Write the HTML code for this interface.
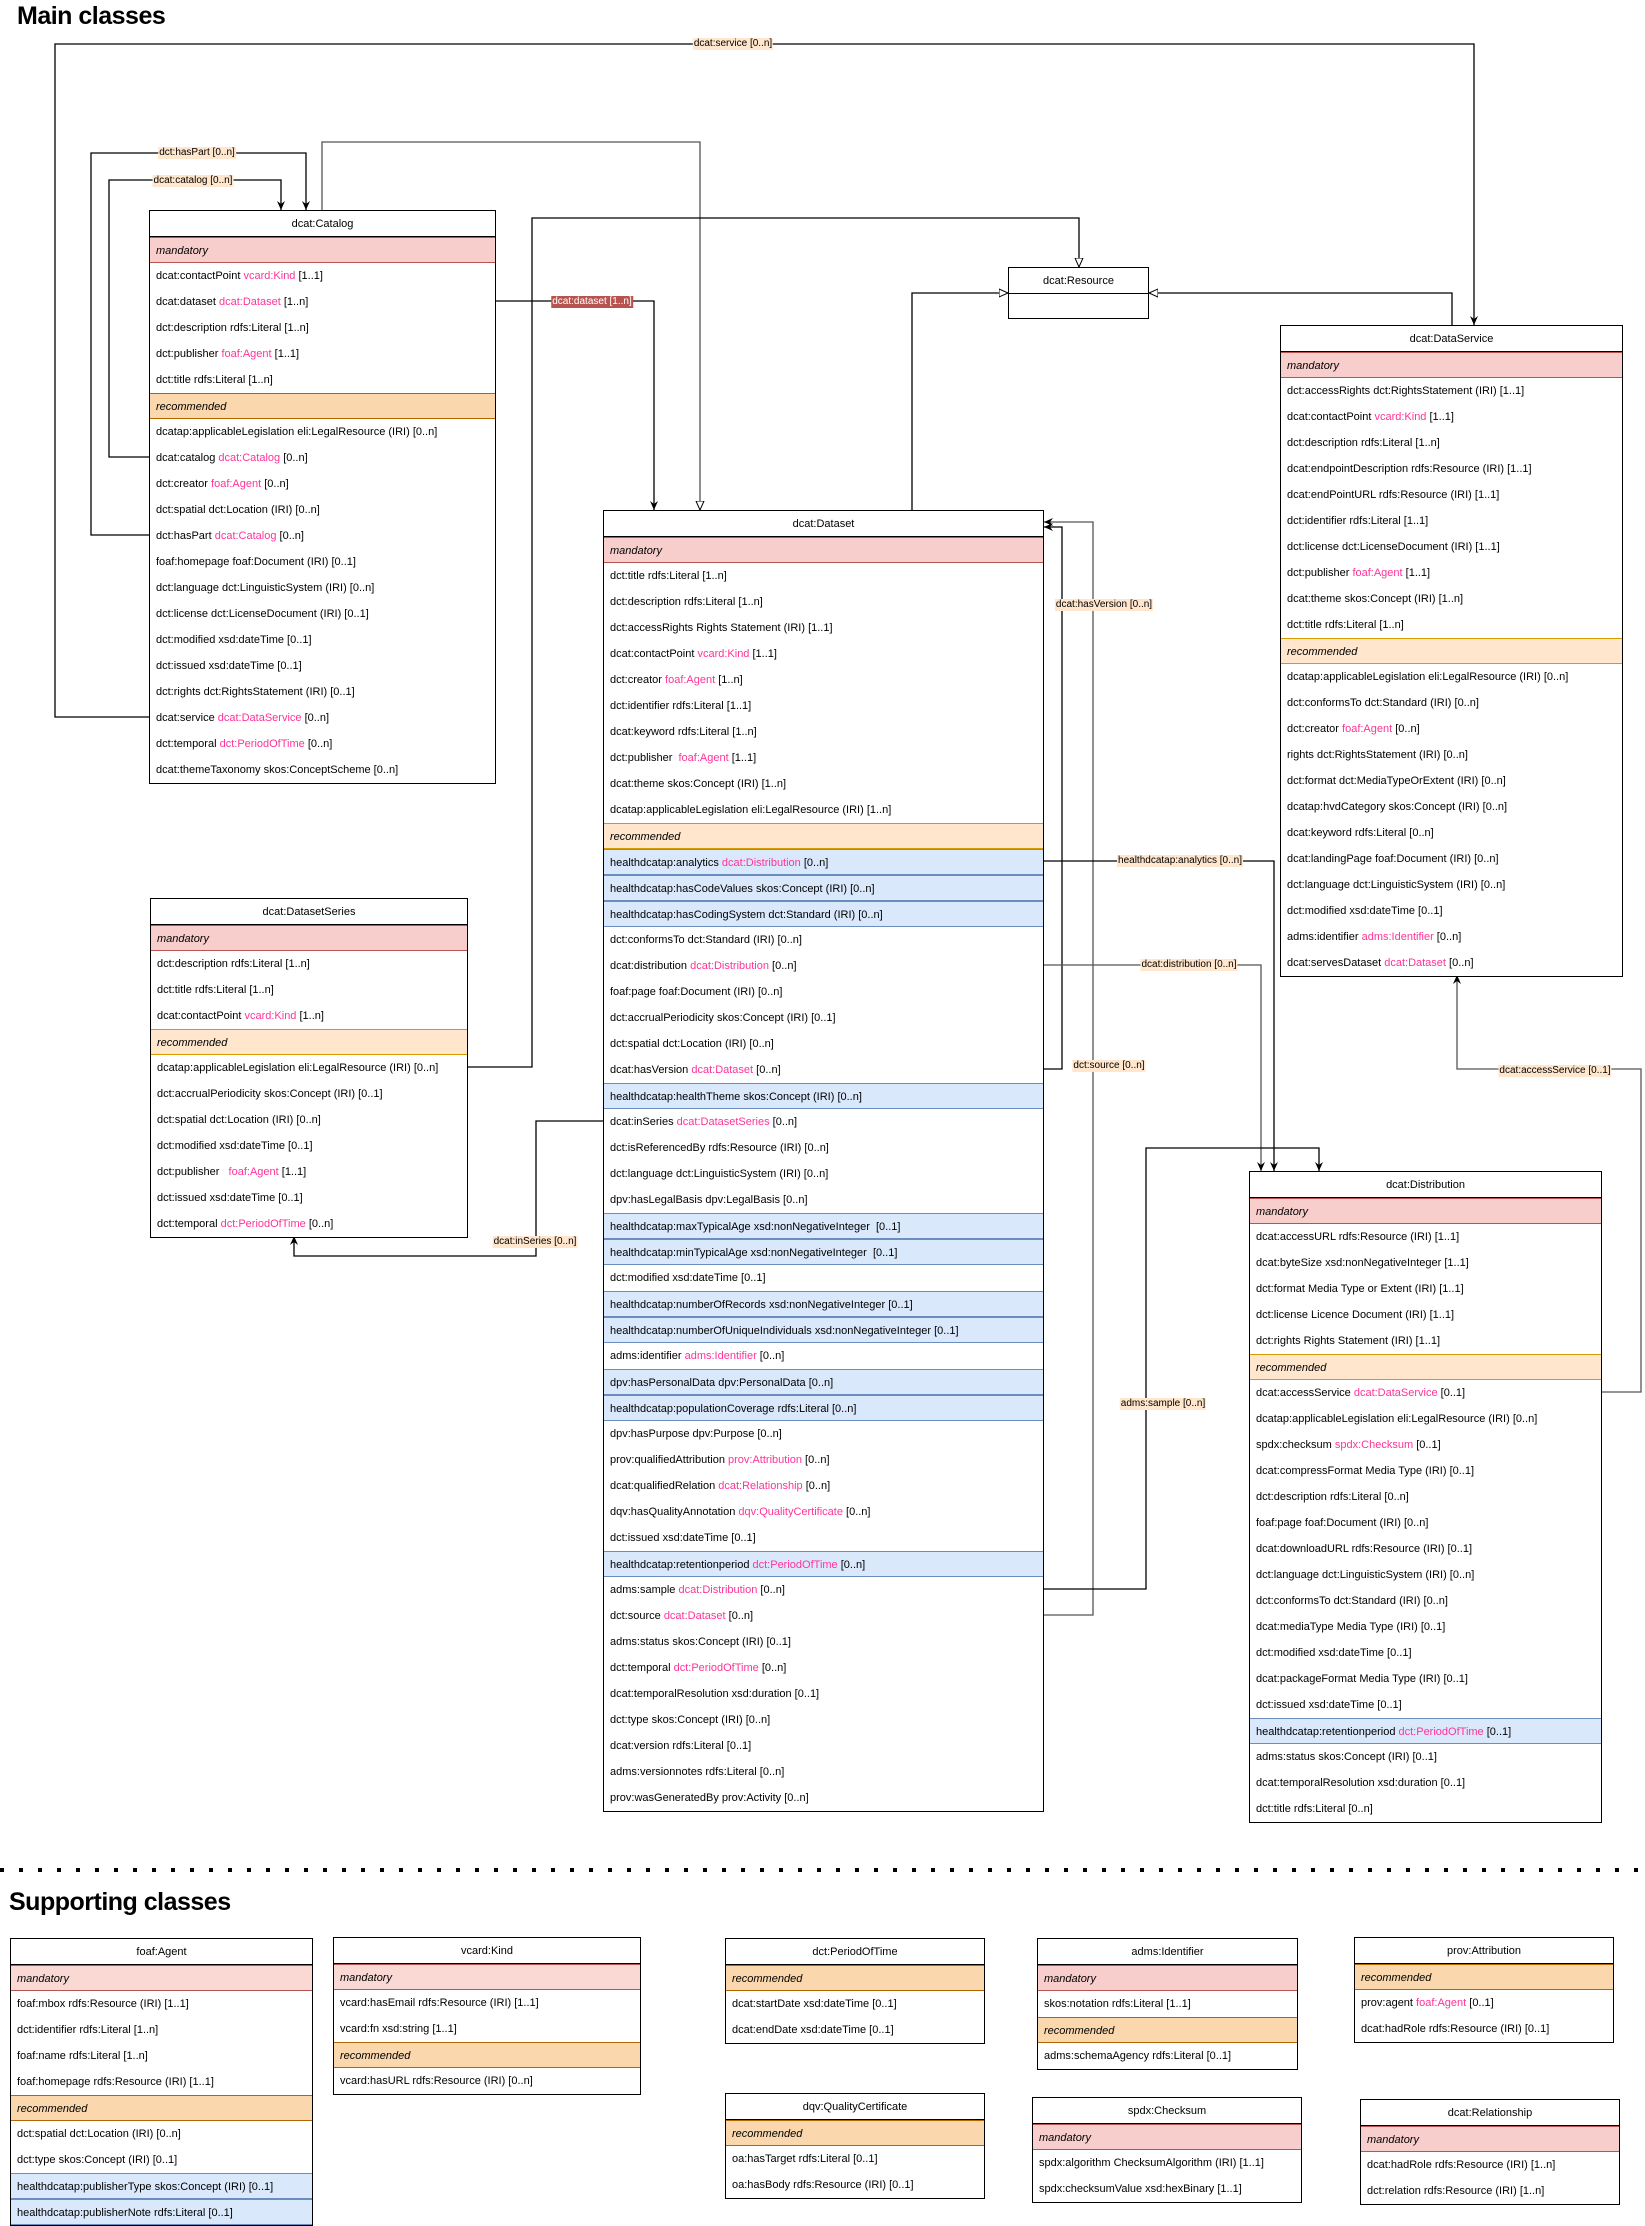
<!DOCTYPE html>
<html><head><meta charset="utf-8">
<style>
*{box-sizing:border-box;margin:0;padding:0}
body{width:1645px;height:2218px;background:#fff;position:relative;font-family:"Liberation Sans",Arial,sans-serif;font-size:11px;color:#000;overflow:hidden}
.t{position:absolute;font-weight:bold;font-size:25px;letter-spacing:-0.5px}
.box{position:absolute;border:1px solid #000;background:#fff}
.box div{height:26px;line-height:26px;padding-left:6px;white-space:nowrap;overflow:hidden}
.box .h{text-align:center;padding-left:0;border-bottom:1px solid #000}
.box .m{background:#f8cecc;border-top:1px solid #b85450;border-bottom:1px solid #b85450;font-style:italic}
.box .r{background:#fad7ac;border-top:1px solid #b46504;border-bottom:1px solid #b46504;font-style:italic}
.box .rl{background:#ffe6cc;border-top:1px solid #d79b00;border-bottom:1px solid #d79b00;font-style:italic}
.box .b{background:#dae8fc;border-top:1px solid #6c8ebf;border-bottom:1px solid #6c8ebf}
.p{color:#ff3399}
.lb{position:absolute;font-size:10px;background:#ffe6cc;line-height:12px;padding:0 1px;white-space:nowrap;transform:translate(-50%,-50%)}
svg{position:absolute;left:0;top:0}
</style></head><body>
<svg width="1645" height="2218">
<defs>
<marker id="f" markerWidth="10" markerHeight="10" refX="9" refY="5" orient="auto" markerUnits="userSpaceOnUse"><path d="M0,1 L9,5 L0,9 L3,5 Z" fill="#000"/></marker>
<marker id="o" markerWidth="10" markerHeight="10" refX="9" refY="5" orient="auto" markerUnits="userSpaceOnUse"><path d="M0,1 L9,5 L0,9 Z" fill="#fff" stroke="#000"/></marker>
</defs>
<g fill="none" stroke="#000" stroke-width="1.3">
<path d="M149,717 H55 V44 H1474 V325" marker-end="url(#f)"/>
<path d="M149,535 H91 V153 H306 V210" marker-end="url(#f)"/>
<path d="M149,457 H109 V180 H281 V210" marker-end="url(#f)"/>
<path d="M322,210 V142 H700 V510" stroke="#555" marker-end="url(#o)"/>
<path d="M496,301 H654 V510" marker-end="url(#f)"/>
<path d="M468,1067 H532 V218 H1079 V267" marker-end="url(#o)"/>
<path d="M912,510 V293 H1008" marker-end="url(#o)"/>
<path d="M1452,325 V293 H1149" marker-end="url(#o)"/>
<path d="M1044,1069 H1062 V527 H1044" marker-end="url(#f)"/>
<path d="M1044,1615 H1093 V522 H1044" stroke="#555" marker-end="url(#f)"/>
<path d="M1044,861 H1274 V1171" marker-end="url(#f)"/>
<path d="M1044,965 H1261 V1171" stroke="#555" marker-end="url(#f)"/>
<path d="M1044,1589 H1146 V1148 H1319 V1171" marker-end="url(#f)"/>
<path d="M1602,1392 H1641 V1069 H1457 V975" stroke="#555" marker-end="url(#f)"/>
<path d="M603,1121 H536 V1256 H294 V1236" marker-end="url(#f)"/>
</g>
<line x1="0" y1="1870" x2="1645" y2="1870" stroke="#000" stroke-width="4" stroke-dasharray="4,15"/>
</svg>

<div class="t" style="left:17px;top:2px">Main classes</div>
<div class="t" style="left:9px;top:1888px">Supporting classes</div>

<div class="lb" style="left:733px;top:44px">dcat:service [0..n]</div>
<div class="lb" style="left:197px;top:153px">dct:hasPart [0..n]</div>
<div class="lb" style="left:193px;top:181px">dcat:catalog [0..n]</div>
<div class="lb" style="left:592px;top:302px;background:#b85450;color:#fff">dcat:dataset [1..n]</div>
<div class="lb" style="left:1104px;top:605px">dcat:hasVersion [0..n]</div>
<div class="lb" style="left:1109px;top:1066px">dct:source [0..n]</div>
<div class="lb" style="left:1180px;top:861px">healthdcatap:analytics [0..n]</div>
<div class="lb" style="left:1189px;top:965px">dcat:distribution [0..n]</div>
<div class="lb" style="left:1163px;top:1404px">adms:sample [0..n]</div>
<div class="lb" style="left:1555px;top:1071px">dcat:accessService [0..1]</div>
<div class="lb" style="left:535px;top:1242px">dcat:inSeries [0..n]</div>

<div class="box" style="left:149px;top:210px;width:347px">
<div class="h">dcat:Catalog</div><div class="m">mandatory</div>
<div>dcat:contactPoint <span class="p">vcard:Kind</span> [1..1]</div>
<div>dcat:dataset <span class="p">dcat:Dataset</span> [1..n]</div>
<div>dct:description rdfs:Literal [1..n]</div>
<div>dct:publisher <span class="p">foaf:Agent</span> [1..1]</div>
<div>dct:title rdfs:Literal [1..n]</div>
<div class="r">recommended</div>
<div>dcatap:applicableLegislation eli:LegalResource (IRI) [0..n]</div>
<div>dcat:catalog <span class="p">dcat:Catalog</span> [0..n]</div>
<div>dct:creator <span class="p">foaf:Agent</span> [0..n]</div>
<div>dct:spatial dct:Location (IRI) [0..n]</div>
<div>dct:hasPart <span class="p">dcat:Catalog</span> [0..n]</div>
<div>foaf:homepage foaf:Document (IRI) [0..1]</div>
<div>dct:language dct:LinguisticSystem (IRI) [0..n]</div>
<div>dct:license dct:LicenseDocument (IRI) [0..1]</div>
<div>dct:modified xsd:dateTime [0..1]</div>
<div>dct:issued xsd:dateTime [0..1]</div>
<div>dct:rights dct:RightsStatement (IRI) [0..1]</div>
<div>dcat:service <span class="p">dcat:DataService</span> [0..n]</div>
<div>dct:temporal <span class="p">dct:PeriodOfTime</span> [0..n]</div>
<div>dcat:themeTaxonomy skos:ConceptScheme [0..n]</div>
</div>

<div class="box" style="left:1008px;top:267px;width:141px;height:52px">
<div class="h">dcat:Resource</div>
</div>

<div class="box" style="left:1280px;top:325px;width:343px">
<div class="h">dcat:DataService</div><div class="m">mandatory</div>
<div>dct:accessRights dct:RightsStatement (IRI) [1..1]</div>
<div>dcat:contactPoint <span class="p">vcard:Kind</span> [1..1]</div>
<div>dct:description rdfs:Literal [1..n]</div>
<div>dcat:endpointDescription rdfs:Resource (IRI) [1..1]</div>
<div>dcat:endPointURL rdfs:Resource (IRI) [1..1]</div>
<div>dct:identifier rdfs:Literal [1..1]</div>
<div>dct:license dct:LicenseDocument (IRI) [1..1]</div>
<div>dct:publisher <span class="p">foaf:Agent</span> [1..1]</div>
<div>dcat:theme skos:Concept (IRI) [1..n]</div>
<div>dct:title rdfs:Literal [1..n]</div>
<div class="rl">recommended</div>
<div>dcatap:applicableLegislation eli:LegalResource (IRI) [0..n]</div>
<div>dct:conformsTo dct:Standard (IRI) [0..n]</div>
<div>dct:creator <span class="p">foaf:Agent</span> [0..n]</div>
<div>rights dct:RightsStatement (IRI) [0..n]</div>
<div>dct:format dct:MediaTypeOrExtent (IRI) [0..n]</div>
<div>dcatap:hvdCategory skos:Concept (IRI) [0..n]</div>
<div>dcat:keyword rdfs:Literal [0..n]</div>
<div>dcat:landingPage foaf:Document (IRI) [0..n]</div>
<div>dct:language dct:LinguisticSystem (IRI) [0..n]</div>
<div>dct:modified xsd:dateTime [0..1]</div>
<div>adms:identifier <span class="p">adms:Identifier</span> [0..n]</div>
<div>dcat:servesDataset <span class="p">dcat:Dataset</span> [0..n]</div>
</div>

<div class="box" style="left:603px;top:510px;width:441px">
<div class="h">dcat:Dataset</div><div class="m">mandatory</div>
<div>dct:title rdfs:Literal [1..n]</div>
<div>dct:description rdfs:Literal [1..n]</div>
<div>dct:accessRights Rights Statement (IRI) [1..1]</div>
<div>dcat:contactPoint <span class="p">vcard:Kind</span> [1..1]</div>
<div>dct:creator <span class="p">foaf:Agent</span> [1..n]</div>
<div>dct:identifier rdfs:Literal [1..1]</div>
<div>dcat:keyword rdfs:Literal [1..n]</div>
<div>dct:publisher &nbsp;<span class="p">foaf:Agent</span> [1..1]</div>
<div>dcat:theme skos:Concept (IRI) [1..n]</div>
<div>dcatap:applicableLegislation eli:LegalResource (IRI) [1..n]</div>
<div class="rl">recommended</div>
<div class="b">healthdcatap:analytics <span class="p">dcat:Distribution</span> [0..n]</div>
<div class="b">healthdcatap:hasCodeValues skos:Concept (IRI) [0..n]</div>
<div class="b">healthdcatap:hasCodingSystem dct:Standard (IRI) [0..n]</div>
<div>dct:conformsTo dct:Standard (IRI) [0..n]</div>
<div>dcat:distribution <span class="p">dcat:Distribution</span> [0..n]</div>
<div>foaf:page foaf:Document (IRI) [0..n]</div>
<div>dct:accrualPeriodicity skos:Concept (IRI) [0..1]</div>
<div>dct:spatial dct:Location (IRI) [0..n]</div>
<div>dcat:hasVersion <span class="p">dcat:Dataset</span> [0..n]</div>
<div class="b">healthdcatap:healthTheme skos:Concept (IRI) [0..n]</div>
<div>dcat:inSeries <span class="p">dcat:DatasetSeries</span> [0..n]</div>
<div>dct:isReferencedBy rdfs:Resource (IRI) [0..n]</div>
<div>dct:language dct:LinguisticSystem (IRI) [0..n]</div>
<div>dpv:hasLegalBasis dpv:LegalBasis [0..n]</div>
<div class="b">healthdcatap:maxTypicalAge xsd:nonNegativeInteger &nbsp;[0..1]</div>
<div class="b">healthdcatap:minTypicalAge xsd:nonNegativeInteger &nbsp;[0..1]</div>
<div>dct:modified xsd:dateTime [0..1]</div>
<div class="b">healthdcatap:numberOfRecords xsd:nonNegativeInteger [0..1]</div>
<div class="b">healthdcatap:numberOfUniqueIndividuals xsd:nonNegativeInteger [0..1]</div>
<div>adms:identifier <span class="p">adms:Identifier</span> [0..n]</div>
<div class="b">dpv:hasPersonalData dpv:PersonalData [0..n]</div>
<div class="b">healthdcatap:populationCoverage rdfs:Literal [0..n]</div>
<div>dpv:hasPurpose dpv:Purpose [0..n]</div>
<div>prov:qualifiedAttribution <span class="p">prov:Attribution</span> [0..n]</div>
<div>dcat:qualifiedRelation <span class="p">dcat:Relationship</span> [0..n]</div>
<div>dqv:hasQualityAnnotation <span class="p">dqv:QualityCertificate</span> [0..n]</div>
<div>dct:issued xsd:dateTime [0..1]</div>
<div class="b">healthdcatap:retentionperiod <span class="p">dct:PeriodOfTime</span> [0..n]</div>
<div>adms:sample <span class="p">dcat:Distribution</span> [0..n]</div>
<div>dct:source <span class="p">dcat:Dataset</span> [0..n]</div>
<div>adms:status skos:Concept (IRI) [0..1]</div>
<div>dct:temporal <span class="p">dct:PeriodOfTime</span> [0..n]</div>
<div>dcat:temporalResolution xsd:duration [0..1]</div>
<div>dct:type skos:Concept (IRI) [0..n]</div>
<div>dcat:version rdfs:Literal [0..1]</div>
<div>adms:versionnotes rdfs:Literal [0..n]</div>
<div>prov:wasGeneratedBy prov:Activity [0..n]</div>
</div>

<div class="box" style="left:150px;top:898px;width:318px">
<div class="h">dcat:DatasetSeries</div><div class="m">mandatory</div>
<div>dct:description rdfs:Literal [1..n]</div>
<div>dct:title rdfs:Literal [1..n]</div>
<div>dcat:contactPoint <span class="p">vcard:Kind</span> [1..n]</div>
<div class="rl">recommended</div>
<div>dcatap:applicableLegislation eli:LegalResource (IRI) [0..n]</div>
<div>dct:accrualPeriodicity skos:Concept (IRI) [0..1]</div>
<div>dct:spatial dct:Location (IRI) [0..n]</div>
<div>dct:modified xsd:dateTime [0..1]</div>
<div>dct:publisher &nbsp;&nbsp;<span class="p">foaf:Agent</span> [1..1]</div>
<div>dct:issued xsd:dateTime [0..1]</div>
<div>dct:temporal <span class="p">dct:PeriodOfTime</span> [0..n]</div>
</div>

<div class="box" style="left:1249px;top:1171px;width:353px">
<div class="h">dcat:Distribution</div><div class="m">mandatory</div>
<div>dcat:accessURL rdfs:Resource (IRI) [1..1]</div>
<div>dcat:byteSize xsd:nonNegativeInteger [1..1]</div>
<div>dct:format Media Type or Extent (IRI) [1..1]</div>
<div>dct:license Licence Document (IRI) [1..1]</div>
<div>dct:rights Rights Statement (IRI) [1..1]</div>
<div class="rl">recommended</div>
<div>dcat:accessService <span class="p">dcat:DataService</span> [0..1]</div>
<div>dcatap:applicableLegislation eli:LegalResource (IRI) [0..n]</div>
<div>spdx:checksum <span class="p">spdx:Checksum</span> [0..1]</div>
<div>dcat:compressFormat Media Type (IRI) [0..1]</div>
<div>dct:description rdfs:Literal [0..n]</div>
<div>foaf:page foaf:Document (IRI) [0..n]</div>
<div>dcat:downloadURL rdfs:Resource (IRI) [0..1]</div>
<div>dct:language dct:LinguisticSystem (IRI) [0..n]</div>
<div>dct:conformsTo dct:Standard (IRI) [0..n]</div>
<div>dcat:mediaType Media Type (IRI) [0..1]</div>
<div>dct:modified xsd:dateTime [0..1]</div>
<div>dcat:packageFormat Media Type (IRI) [0..1]</div>
<div>dct:issued xsd:dateTime [0..1]</div>
<div class="b">healthdcatap:retentionperiod <span class="p">dct:PeriodOfTime</span> [0..1]</div>
<div>adms:status skos:Concept (IRI) [0..1]</div>
<div>dcat:temporalResolution xsd:duration [0..1]</div>
<div>dct:title rdfs:Literal [0..n]</div>
</div>

<div class="box" style="left:10px;top:1938px;width:303px">
<div class="h">foaf:Agent</div><div class="m" style="background:#fad9d5">mandatory</div>
<div>foaf:mbox rdfs:Resource (IRI) [1..1]</div>
<div>dct:identifier rdfs:Literal [1..n]</div>
<div>foaf:name rdfs:Literal [1..n]</div>
<div>foaf:homepage rdfs:Resource (IRI) [1..1]</div>
<div class="r">recommended</div>
<div>dct:spatial dct:Location (IRI) [0..n]</div>
<div>dct:type skos:Concept (IRI) [0..1]</div>
<div class="b">healthdcatap:publisherType skos:Concept (IRI) [0..1]</div>
<div class="b">healthdcatap:publisherNote rdfs:Literal [0..1]</div>
</div>

<div class="box" style="left:333px;top:1937px;width:308px">
<div class="h">vcard:Kind</div><div class="m" style="background:#fad9d5">mandatory</div>
<div>vcard:hasEmail rdfs:Resource (IRI) [1..1]</div>
<div>vcard:fn xsd:string [1..1]</div>
<div class="r">recommended</div>
<div>vcard:hasURL rdfs:Resource (IRI) [0..n]</div>
</div>

<div class="box" style="left:725px;top:1938px;width:260px">
<div class="h">dct:PeriodOfTime</div><div class="r">recommended</div>
<div>dcat:startDate xsd:dateTime [0..1]</div>
<div>dcat:endDate xsd:dateTime [0..1]</div>
</div>

<div class="box" style="left:1037px;top:1938px;width:261px">
<div class="h">adms:Identifier</div><div class="m">mandatory</div>
<div>skos:notation rdfs:Literal [1..1]</div>
<div class="r">recommended</div>
<div>adms:schemaAgency rdfs:Literal [0..1]</div>
</div>

<div class="box" style="left:1354px;top:1937px;width:260px">
<div class="h">prov:Attribution</div><div class="r">recommended</div>
<div>prov:agent <span class="p">foaf:Agent</span> [0..1]</div>
<div>dcat:hadRole rdfs:Resource (IRI) [0..1]</div>
</div>

<div class="box" style="left:725px;top:2093px;width:260px">
<div class="h">dqv:QualityCertificate</div><div class="r">recommended</div>
<div>oa:hasTarget rdfs:Literal [0..1]</div>
<div>oa:hasBody rdfs:Resource (IRI) [0..1]</div>
</div>

<div class="box" style="left:1032px;top:2097px;width:270px">
<div class="h">spdx:Checksum</div><div class="m">mandatory</div>
<div>spdx:algorithm ChecksumAlgorithm (IRI) [1..1]</div>
<div>spdx:checksumValue xsd:hexBinary [1..1]</div>
</div>

<div class="box" style="left:1360px;top:2099px;width:260px">
<div class="h">dcat:Relationship</div><div class="m">mandatory</div>
<div>dcat:hadRole rdfs:Resource (IRI) [1..n]</div>
<div>dct:relation rdfs:Resource (IRI) [1..n]</div>
</div>
</body></html>
